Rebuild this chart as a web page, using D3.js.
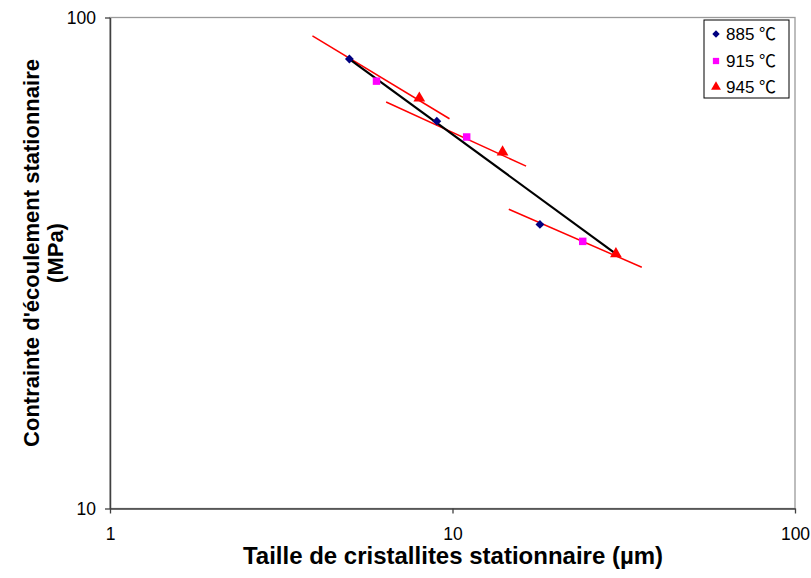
<!DOCTYPE html>
<html><head><meta charset="utf-8">
<script src="https://cdn.jsdelivr.net/npm/d3@7"></script>
<style>body{margin:0;background:#fff}svg{display:block;font-family:"Liberation Sans",Arial,"Noto Sans CJK SC",sans-serif}</style>
</head><body><svg id="c" width="811" height="578"></svg>
<script>
// data
const seriesNames = ["885 ℃", "915 ℃", "945 ℃"];
const sizes885 = [5, 9, 18];
const stress885 = [82.3, 61.5, 37.9];
const sizes915 = [6, 11, 24];
const stress915 = [74.2, 57.1, 35.0];
const sizes945 = [8, 14, 30];
const stress945 = [68.5, 53.2, 33.0];
// trend lines (red): endpoints
const trendX = [[3.9, 9.8], [6.4, 16.4], [14.6, 35.7]];
const trendY = [[91.7, 62.2], [67.3, 49.8], [40.7, 31.0]];
// black line
const blackX = [5, 30];
const blackY = [82.3, 33.0];
const xTicks = [1, 10, 100];
const yTicks = [10, 100];

const FONT = "'Liberation Sans', Arial, 'Noto Sans CJK SC', sans-serif";
const svg = d3.select("#c");
const L = 110, R = 795, T = 17.5, B = 508.5;
const x = d3.scaleLog().domain([1, 100]).range([L, R]);
const y = d3.scaleLog().domain([10, 100]).range([B, T]);

// plot border
svg.append("rect").attr("x", L).attr("y", T).attr("width", R - L).attr("height", B - T)
  .attr("fill", "none").attr("stroke", "#9a9a9a").attr("stroke-width", 1.3);

// axes
const xAxis = d3.axisBottom(x).tickValues(xTicks).tickFormat(d3.format("d")).tickSizeInner(5).tickSizeOuter(0).tickPadding(14);
const gx = svg.append("g").attr("transform", `translate(0,${B})`).call(xAxis);
const yAxis = d3.axisLeft(y).tickValues(yTicks).tickFormat(d3.format("d")).tickSizeInner(5).tickSizeOuter(0).tickPadding(9);
const gy = svg.append("g").attr("transform", `translate(${L},0)`).call(yAxis);
[gx, gy].forEach(g => {
  g.attr("font-family", FONT);
  g.select(".domain").attr("stroke", "#404040").attr("stroke-width", 1.5);
  g.selectAll(".tick line").attr("stroke", "#404040").attr("stroke-width", 1.3);
  g.selectAll(".tick text").attr("font-size", 17.5).attr("fill", "#000");
});

// trend lines
const line = d3.line().x(d => x(d[0])).y(d => y(d[1]));
trendX.forEach((tx, i) => {
  svg.append("path").attr("d", line([[tx[0], trendY[i][0]], [tx[1], trendY[i][1]]]))
    .attr("stroke", "#ff0000").attr("stroke-width", 1.5).attr("fill", "none");
});
svg.append("path").attr("d", line([[blackX[0], blackY[0]], [blackX[1], blackY[1]]]))
  .attr("stroke", "#000").attr("stroke-width", 2.2).attr("fill", "none");

// markers
const sym = [
  {type: d3.symbolDiamond2, size: 50, color: "#000080", xs: sizes885, ys: stress885},
  {type: d3.symbolSquare, size: 56, color: "#ff00ff", xs: sizes915, ys: stress915},
  {type: d3.symbolTriangle, size: 60, color: "#ff0000", xs: sizes945, ys: stress945}
];
sym.forEach(s => {
  s.xs.forEach((v, i) => {
    svg.append("path").attr("d", d3.symbol().type(s.type).size(s.size)())
      .attr("transform", `translate(${x(v)},${y(s.ys[i])})`).attr("fill", s.color);
  });
});

// legend
svg.append("rect").attr("x", 704).attr("y", 20).attr("width", 85).attr("height", 78)
  .attr("fill", "#fff").attr("stroke", "#000").attr("stroke-width", 1);
const lgY = [34, 61, 87];
sym.forEach((s, i) => {
  svg.append("path").attr("d", d3.symbol().type(s.type).size(s.size * 0.7)())
    .attr("transform", `translate(716,${lgY[i]})`).attr("fill", s.color);
  svg.append("text").attr("x", 726).attr("y", lgY[i] + 6).attr("font-size", 17)
    .attr("font-family", FONT).text(seriesNames[i]);
});

// titles
svg.append("text").attr("x", 453).attr("y", 564).attr("text-anchor", "middle")
  .attr("font-size", 24).attr("font-weight", "bold").text("Taille de cristallites stationnaire (µm)");
const yt = svg.append("text").attr("transform", "translate(0,253) rotate(-90)")
  .attr("text-anchor", "middle").attr("font-size", 22).attr("font-weight", "bold");
yt.append("tspan").attr("x", 0).attr("y", 39).text("Contrainte d'écoulement stationnaire");
yt.append("tspan").attr("x", 0).attr("y", 63).text("(MPa)");
</script></body></html>
